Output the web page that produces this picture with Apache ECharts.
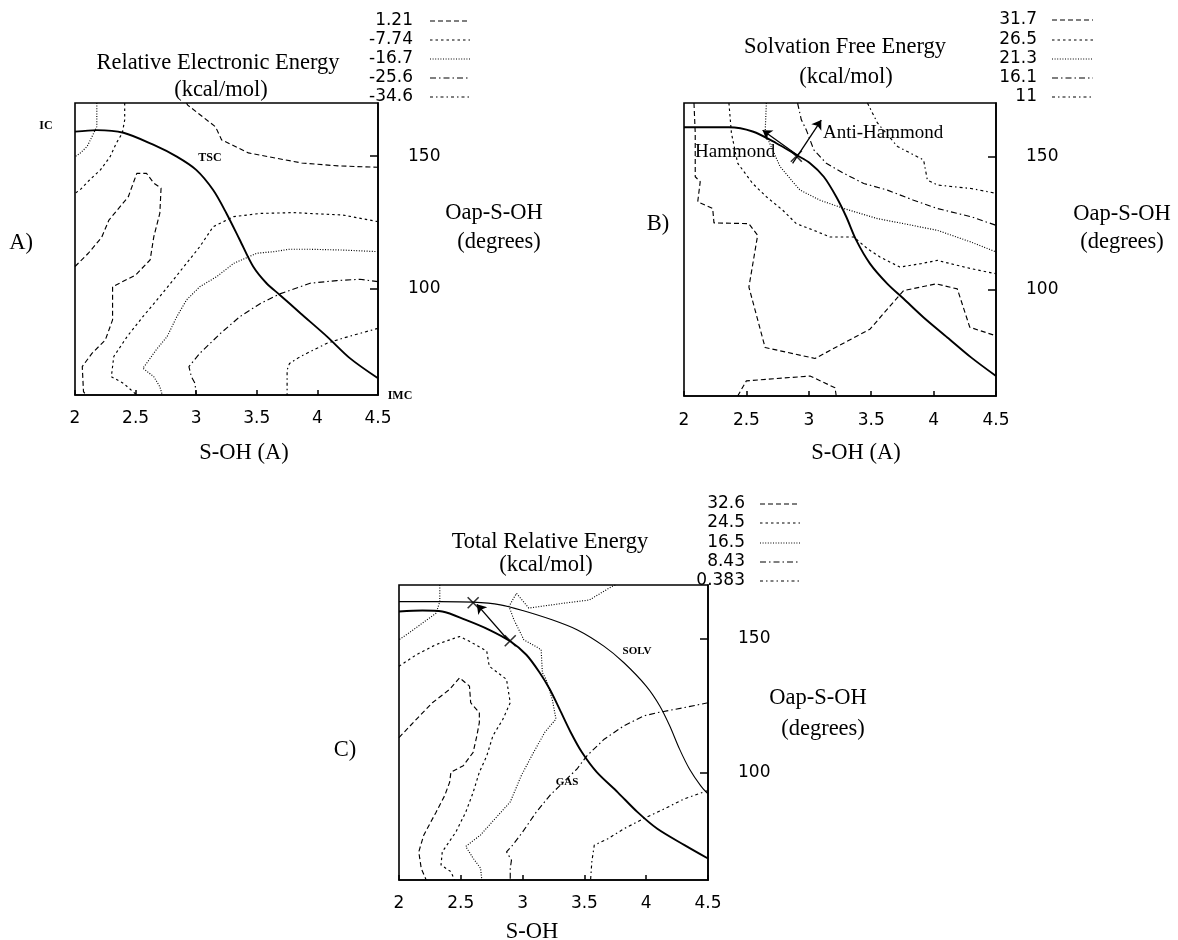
<!DOCTYPE html>
<html>
<head>
<meta charset="utf-8">
<script src="https://cdn.jsdelivr.net/npm/echarts@6.0.0/dist/echarts.min.js"></script>
<style>
html,body{margin:0;padding:0;background:#fff;}
#chart{width:1178px;height:940px;}
</style>
</head>
<body>
<div id="chart"></div>
<script>
// ---------- data ----------
const xTickStep = 0.5;
const yLabelValues = [100, 150];

// Panel A : Relative Electronic Energy
const levelsA = ['1.21', '-7.74', '-16.7', '-25.6', '-34.6'];
const pathA = [[2.0,159.2],[2.18,159.8],[2.4,158.8],[2.65,154.2],[2.84,149.8],[3.0,144.8],[3.14,137.2],[3.25,128.4],[3.36,118.4],[3.47,108.4],[3.58,102.1],[3.69,97.7],[3.86,90.8],[4.08,82.0],[4.27,73.8],[4.5,66.3]];
const aLevel1a = [[2.92,170],[2.93,169.2],[3.16,161.0],[3.21,156.1],[3.43,151.2],[3.87,147.4],[4.17,146.3],[4.5,145.8]];
const aLevel1b = [[2.0,108.4],[2.11,113.4],[2.22,119.4],[2.28,125.9],[2.44,134.7],[2.51,143.5],[2.59,143.5],[2.65,139.8],[2.71,137.9],[2.70,128.5],[2.65,119.6],[2.62,110.9],[2.50,105.2],[2.31,100.8],[2.31,88.3],[2.25,80.7],[2.14,75.7],[2.06,70.7],[2.07,61.3],[2.09,60]];
const aLevel2a = [[2.41,170],[2.41,163.6],[2.39,158.6],[2.34,154.8],[2.29,149.8],[2.21,144.8],[2.12,141.0],[2.04,137.2],[2.0,136.0]];
const aLevel2b = [[4.5,125.3],[4.21,127.8],[3.8,128.7],[3.53,128.4],[3.31,127.2],[3.14,123.4],[3.03,115.9],[2.92,109.6],[2.81,103.3],[2.7,97.1],[2.56,89.5],[2.43,82.0],[2.32,74.5],[2.3,66.9],[2.4,64.4],[2.51,60]];
const aLevel3a = [[2.18,170],[2.18,161.1],[2.14,157.3],[2.1,153.6],[2.04,151.0],[2.0,149.8]];
const aLevel3b = [[4.5,114.0],[4.21,114.6],[3.94,114.9],[3.77,114.9],[3.64,114.0],[3.5,113.4],[3.31,109.6],[3.17,104.6],[3.03,100.8],[2.92,95.8],[2.84,89.5],[2.76,82.0],[2.67,77.0],[2.59,71.9],[2.56,70.1],[2.65,66.9],[2.7,63.1],[2.72,60]];
const aLevel4 = [[4.5,102.7],[4.35,103.6],[4.16,103.1],[3.94,102.1],[3.69,98.1],[3.53,94.5],[3.36,89.5],[3.2,83.2],[3.03,75.7],[2.94,70.7],[2.96,66.9],[2.99,64.4],[3.0,60]];
const aLevel5 = [[4.5,85.1],[4.35,83.2],[4.21,81.4],[4.08,79.5],[3.97,77.0],[3.86,74.5],[3.77,71.9],[3.75,69.4],[3.75,60]];

// Panel B : Solvation Free Energy
const levelsB = ['31.7', '26.5', '21.3', '16.1', '11'];
const pathB = [[2.0,160.9],[2.36,160.9],[2.55,159.3],[2.74,154.9],[2.9,150.5],[3.01,147.4],[3.12,142.3],[3.22,134.8],[3.3,127.3],[3.38,118.5],[3.49,109.7],[3.63,102.1],[3.76,96.5],[3.92,89.5],[4.11,82.0],[4.3,74.5],[4.5,67.5]];
const bLevel1a = [[2.08,170],[2.09,158.7],[2.09,142.3],[2.13,140.5],[2.11,132.9],[2.23,130.4],[2.24,125.0],[2.52,124.7],[2.59,120.3],[2.52,100.9],[2.65,78.2],[3.05,74.1],[3.49,85.1],[3.76,99.6],[4.02,102.1],[4.19,100.2],[4.29,85.8],[4.5,82.6]];
const bLevel1b = [[2.43,60],[2.5,65.7],[3.01,67.5],[3.21,63.1],[3.22,60]];
const bLevel2 = [[2.36,170],[2.38,158.7],[2.43,147.4],[2.55,139.8],[2.66,134.8],[2.79,129.8],[2.9,124.7],[3.04,122.2],[3.17,119.7],[3.36,119.7],[3.47,115.3],[3.57,112.2],[3.73,108.4],[3.9,109.7],[4.03,110.9],[4.3,107.8],[4.5,105.9]];
const bLevel3 = [[2.66,170],[2.65,158.7],[2.77,146.1],[2.87,140.5],[2.93,137.3],[3.09,133.5],[3.28,130.4],[3.55,126.6],[3.76,124.7],[4.03,122.2],[4.3,117.8],[4.5,114.1]];
const bLevel4 = [[2.91,170],[2.94,163.7],[2.98,159.9],[3.04,152.4],[3.14,147.4],[3.28,143.6],[3.44,139.8],[3.63,137.3],[3.84,133.5],[4.03,130.4],[4.3,127.3],[4.5,124.1]];
const bLevel5 = [[3.47,170],[3.55,162.5],[3.71,153.7],[3.92,148.6],[3.95,141.1],[4.03,139.2],[4.3,137.9],[4.5,136.1]];
const bHammondArrow = [[2.91,150.4],[2.63,159.8]];
const bAntiHammondArrow = [[2.87,147.3],[3.1,163.6]];
const bCross = [[2.9,150.0]];

// Panel C : Total Relative Energy
const levelsC = ['32.6', '24.5', '16.5', '8.43', '0.383'];
const pathCgas = [[2.0,160.1],[2.19,160.5],[2.35,160.1],[2.54,157.0],[2.73,153.3],[2.9,149.0],[3.03,144.0],[3.14,137.2],[3.22,131.1],[3.3,123.6],[3.39,115.0],[3.48,107.6],[3.6,100.2],[3.77,92.7],[3.93,85.3],[4.09,79.1],[4.31,73.0],[4.5,68.0]];
const pathCsolv = [[2.0,163.8],[2.33,163.8],[2.6,163.6],[2.82,162.6],[3.0,160.5],[3.22,157.3],[3.44,153.3],[3.66,147.1],[3.82,141.0],[4.0,132.3],[4.11,124.9],[4.19,117.5],[4.27,108.8],[4.35,101.4],[4.44,95.2],[4.5,92.1]];
const cLevel1 = [[2.0,113.1],[2.14,119.9],[2.27,126.1],[2.41,131.1],[2.49,135.4],[2.57,132.3],[2.58,126.1],[2.65,122.4],[2.65,118.7],[2.63,113.8],[2.6,107.6],[2.52,102.6],[2.42,100.2],[2.41,96.5],[2.37,91.5],[2.3,85.3],[2.2,76.7],[2.16,70.5],[2.18,64.3],[2.22,60]];
const cLevel2 = [[2.0,139.7],[2.14,144.0],[2.3,147.8],[2.49,150.8],[2.57,149.0],[2.71,145.3],[2.73,139.7],[2.87,134.8],[2.9,126.1],[2.84,119.9],[2.76,113.8],[2.71,106.3],[2.65,100.2],[2.6,92.7],[2.54,85.3],[2.46,77.9],[2.35,70.5],[2.34,65.6],[2.42,63.1],[2.45,60]];
const cLevel3a = [[2.33,170],[2.33,163.8],[2.3,159.5],[2.19,155.8],[2.08,152.1],[2.0,149.6]];
const cLevel3b = [[3.75,170],[3.72,169.4],[3.54,164.4],[3.33,163.2],[3.05,161.4],[2.95,166.9],[2.89,162.0],[2.93,157.0],[3.01,149.6],[3.15,145.9],[3.16,137.3],[3.19,134.8],[3.24,127.4],[3.27,120.0],[3.18,115.1],[3.09,107.7],[2.99,99.0],[2.9,89.1],[2.78,83.0],[2.66,76.8],[2.54,72.5],[2.6,68.1],[2.66,64.4],[2.67,60]];
const cLevel4 = [[4.5,126.1],[4.31,124.3],[4.09,122.4],[3.98,121.2],[3.82,117.5],[3.66,112.5],[3.52,106.3],[3.44,101.4],[3.33,96.5],[3.22,91.5],[3.11,85.3],[3.0,77.9],[2.92,73.0],[2.87,70.5],[2.91,67.4],[2.9,64.3],[2.9,60]];
const cLevel5 = [[4.5,93.4],[4.31,90.3],[4.15,86.6],[3.98,82.9],[3.82,79.1],[3.69,75.4],[3.58,73.0],[3.56,66.8],[3.55,60]];
const cArrow = [[2.88,149.6],[2.63,162.8]];
const cCrosses = [[2.6,163.4],[2.9,149.2]];

// ---------- styles ----------
const DASH = [[5,3],[2.5,3],[1,1.6],[6,3,1.5,3],[3,3,1.5,3]];
const NUM_FONT = '"DejaVu Sans", sans-serif';
const SERIF = '"Liberation Serif", "Times New Roman", serif';

const panels = [
  {grid:{left:75, top:103, width:303, height:292}, labelMargin:15},
  {grid:{left:684, top:103, width:312, height:293}, labelMargin:16},
  {grid:{left:399, top:585, width:309, height:295}, labelMargin:15}
];

const grids = panels.map(p => Object.assign({show:true, borderColor:'#000', borderWidth:1.6, backgroundColor:'transparent'}, p.grid));
const xAxes = panels.map((p,i) => ({
  type:'value', gridIndex:i, min:2, max:4.5, interval:xTickStep, position:'bottom',
  axisLine:{show:true, lineStyle:{color:'#000', width:1.6}},
  axisTick:{show:true, inside:true, length:5, lineStyle:{color:'#000', width:1.5}},
  axisLabel:{color:'#000', fontFamily:NUM_FONT, fontSize:17, margin:p.labelMargin, showMinLabel:true, showMaxLabel:true},
  splitLine:{show:false}
}));
const yAxes = panels.map((p,i) => ({
  type:'value', gridIndex:i, min:60, max:170, position:'right',
  axisLine:{show:true, lineStyle:{color:'#000', width:1.6}},
  axisTick:{show:true, inside:true, length:8, customValues:yLabelValues, lineStyle:{color:'#000', width:1.5}},
  axisLabel:{color:'#000', fontFamily:NUM_FONT, fontSize:17, margin:30, customValues:yLabelValues},
  splitLine:{show:false}
}));

function contour(idx, data, level){
  return {type:'line', xAxisIndex:idx, yAxisIndex:idx, data:data, symbol:'none', silent:true,
    animation:false, clip:true, lineStyle:{color:'#000', width:1.15, type:DASH[level]}};
}
function solid(idx, data, w){
  return {type:'line', xAxisIndex:idx, yAxisIndex:idx, data:data, symbol:'none', silent:true,
    animation:false, clip:true, smooth:0.3, lineStyle:{color:'#000', width:w, type:'solid'}};
}
function arrow(idx, pts){
  return {type:'lines', coordinateSystem:'cartesian2d', xAxisIndex:idx, yAxisIndex:idx, silent:true, animation:false,
    symbol:['none','arrow'], symbolSize:9, lineStyle:{color:'#000', width:1.3, opacity:1},
    data:[{coords:pts}]};
}
function crosses(idx, pts){
  return {type:'scatter', xAxisIndex:idx, yAxisIndex:idx, data:pts, silent:true, animation:false,
    symbol:'path://M0,0L10,10M10,0L0,10', symbolSize:11,
    itemStyle:{color:'rgba(0,0,0,0)', borderColor:'#000', borderWidth:1.6}};
}

const series = [
  solid(0, pathA, 1.9),
  contour(0, aLevel1a, 0), contour(0, aLevel1b, 0),
  contour(0, aLevel2a, 1), contour(0, aLevel2b, 1),
  contour(0, aLevel3a, 2), contour(0, aLevel3b, 2),
  contour(0, aLevel4, 3), contour(0, aLevel5, 4),

  solid(1, pathB, 1.9),
  contour(1, bLevel1a, 0), contour(1, bLevel1b, 0),
  contour(1, bLevel2, 1), contour(1, bLevel3, 2),
  contour(1, bLevel4, 3), contour(1, bLevel5, 4),
  arrow(1, bHammondArrow), arrow(1, bAntiHammondArrow), crosses(1, bCross),

  solid(2, pathCgas, 1.9), solid(2, pathCsolv, 1.1),
  contour(2, cLevel1, 0), contour(2, cLevel2, 1),
  contour(2, cLevel3a, 2), contour(2, cLevel3b, 2),
  contour(2, cLevel4, 3), contour(2, cLevel5, 4),
  arrow(2, cArrow), crosses(2, cCrosses)
];

// ---------- text & legends ----------
const graphics = [];
function txt(s, x, y, font, align){
  graphics.push({type:'text', x:x, y:y, silent:true,
    style:{text:s, font:font, fill:'#000', align:align||'center', verticalAlign:'middle'}});
}
function legend(levels, rightX, rows, x1, x2){
  levels.forEach((lv, k) => {
    txt(lv, rightX, rows[k], '17px ' + NUM_FONT, 'right');
    graphics.push({type:'line', silent:true, shape:{x1:x1, y1:rows[k], x2:x2, y2:rows[k]},
      style:{stroke:'#000', lineWidth:1.1, lineDash:DASH[k]}});
  });
}
const TITLE_FONT = '22.5px ' + SERIF;
// Panel A
txt('Relative Electronic Energy', 218, 63, TITLE_FONT);
txt('(kcal/mol)', 221, 90, TITLE_FONT);
legend(levelsA, 413, [21,40,59,78,97], 430, 470);
txt('Oap-S-OH', 494, 213, TITLE_FONT);
txt('(degrees)', 499, 242, TITLE_FONT);
txt('A)', 21, 243, TITLE_FONT);
txt('S-OH (A)', 244, 453, TITLE_FONT);
txt('IC', 46, 126, 'bold 12px ' + SERIF);
txt('TSC', 210, 158, 'bold 12px ' + SERIF);
txt('IMC', 400, 396, 'bold 12px ' + SERIF);
// Panel B
txt('Solvation Free Energy', 845, 47, TITLE_FONT);
txt('(kcal/mol)', 846, 77, TITLE_FONT);
legend(levelsB, 1037, [20,40,59,78,97], 1052, 1093);
txt('Oap-S-OH', 1122, 214, TITLE_FONT);
txt('(degrees)', 1122, 242, TITLE_FONT);
txt('B)', 658, 224, TITLE_FONT);
txt('S-OH (A)', 856, 453, TITLE_FONT);
txt('Hammond', 695, 152, '19px ' + SERIF, 'left');
txt('Anti-Hammond', 823, 133, '19px ' + SERIF, 'left');
// Panel C
txt('Total Relative Energy', 550, 542, TITLE_FONT);
txt('(kcal/mol)', 546, 565, TITLE_FONT);
legend(levelsC, 745, [504,523,543,562,581], 760, 800);
txt('Oap-S-OH', 818, 698, TITLE_FONT);
txt('(degrees)', 823, 729, TITLE_FONT);
txt('C)', 345, 750, TITLE_FONT);
txt('S-OH', 532, 932, TITLE_FONT);
txt('SOLV', 637, 651, 'bold 11px ' + SERIF);
txt('GAS', 567, 782, 'bold 11px ' + SERIF);

const chart = echarts.init(document.getElementById('chart'), null, {renderer:'canvas'});
chart.setOption({
  backgroundColor:'#fff',
  animation:false,
  grid:grids, xAxis:xAxes, yAxis:yAxes,
  series:series,
  graphic:graphics
});
</script>
</body>
</html>
